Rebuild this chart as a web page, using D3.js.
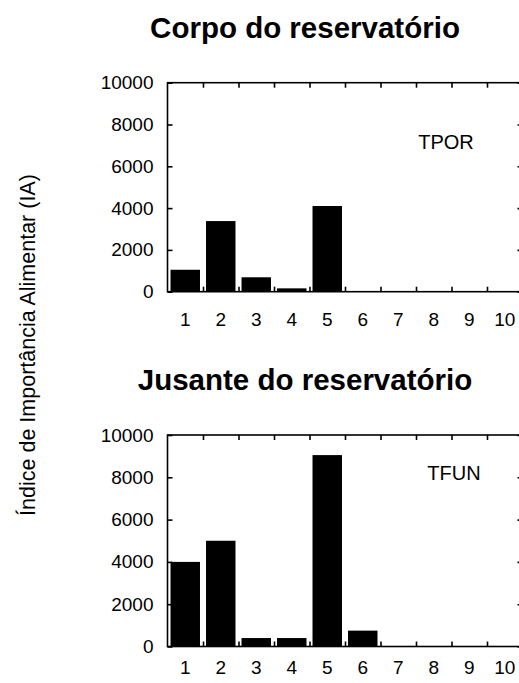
<!DOCTYPE html>
<html>
<head>
<meta charset="utf-8">
<script src="https://cdn.jsdelivr.net/npm/d3@7"></script>
<style>
  body { margin: 0; background: #fff; }
  svg { display: block; font-family: "Liberation Sans", Arial, sans-serif; }
  .axis path, .axis line { stroke: #000; stroke-width: 1.6; }
</style>
</head>
<body>
<svg id="chart" width="519" height="683"></svg>
<script>
// categories and values
const categories = [1, 2, 3, 4, 5, 6, 7, 8, 9, 10];
const yTicks = [0, 2000, 4000, 6000, 8000, 10000];
const tporValues = [1050, 3380, 690, 160, 4100, 0, 0, 0, 0, 0];
const tfunValues = [4000, 5000, 400, 400, 9050, 750, 0, 0, 0, 0];
const panelTitles = ['Corpo do reservatório', 'Jusante do reservatório'];
const panelLabels = ['TPOR', 'TFUN'];
const yLabel = 'Índice de Importância Alimentar (IA)';

const svg = d3.select('#chart');

const left = 167.5, right = 522.5;

const panels = [
  { title: panelTitles[0], label: panelLabels[0], values: tporValues,
    top: 82.7, bottom: 291.7, titleY: 37.5, labelX: 446, labelY: 149, xPad: 21 },
  { title: panelTitles[1], label: panelLabels[1], values: tfunValues,
    top: 435, bottom: 646.5, titleY: 389.5, labelX: 454, labelY: 479.5, xPad: 14 }
];

// shared y-axis title
svg.append('text')
  .attr('transform', 'translate(35,345) rotate(-90)')
  .attr('text-anchor', 'middle')
  .attr('font-size', '21.5px')
  .attr('fill', '#000')
  .text(yLabel);

panels.forEach(p => {
  const g = svg.append('g');

  const x = d3.scaleBand()
    .domain(categories)
    .range([left, right])
    .paddingInner(0.17)
    .paddingOuter(0.085);

  // linear version of x for tick marks between categories
  const xEdge = d3.scaleLinear()
    .domain([0.5, categories.length + 0.5])
    .range([left, right]);
  const edges = categories.slice(0, -1).map(c => c + 0.5);

  const y = d3.scaleLinear()
    .domain([0, 10000])
    .range([p.bottom, p.top]);

  // title
  g.append('text')
    .attr('x', 305)
    .attr('y', p.titleY)
    .attr('text-anchor', 'middle')
    .attr('font-size', '29.5px')
    .attr('font-weight', 'bold')
    .text(p.title);

  // bars
  g.selectAll('rect.bar')
    .data(p.values)
    .enter()
    .append('rect')
    .attr('class', 'bar')
    .attr('x', (d, i) => x(categories[i]))
    .attr('width', x.bandwidth())
    .attr('y', d => y(d))
    .attr('height', d => y(0) - y(d))
    .attr('fill', '#000');

  // frame
  g.append('rect')
    .attr('x', left)
    .attr('y', p.top)
    .attr('width', right - left)
    .attr('height', p.bottom - p.top)
    .attr('fill', 'none')
    .attr('stroke', '#000')
    .attr('stroke-width', 1.6);

  // y axis (left, inward ticks)
  const yAxis = g.append('g')
    .attr('class', 'axis')
    .attr('transform', `translate(${left},0)`)
    .call(d3.axisLeft(y).tickValues(yTicks).tickSize(-5).tickPadding(14).tickFormat(d3.format('d')));
  yAxis.select('.domain').remove();
  yAxis.selectAll('text').attr('font-size', '19px').attr('fill', '#000').style('font-family', 'Liberation Sans, Arial, sans-serif');

  // right ticks
  const yRight = g.append('g')
    .attr('class', 'axis')
    .attr('transform', `translate(${right},0)`)
    .call(d3.axisRight(y).tickValues(yTicks).tickSize(-5).tickFormat(''));
  yRight.select('.domain').remove();

  // bottom ticks between bars
  const xTicks = g.append('g')
    .attr('class', 'axis')
    .attr('transform', `translate(0,${p.bottom})`)
    .call(d3.axisBottom(xEdge).tickValues(edges).tickSize(-5).tickFormat(''));
  xTicks.select('.domain').remove();

  // top ticks
  const xTop = g.append('g')
    .attr('class', 'axis')
    .attr('transform', `translate(0,${p.top})`)
    .call(d3.axisTop(xEdge).tickValues(edges).tickSize(-5).tickFormat(''));
  xTop.select('.domain').remove();

  // category labels
  const xLabels = g.append('g')
    .attr('transform', `translate(0,${p.bottom})`)
    .call(d3.axisBottom(x).tickSize(0).tickPadding(p.xPad));
  xLabels.select('.domain').remove();
  xLabels.selectAll('text').attr('font-size', '19px').attr('fill', '#000').style('font-family', 'Liberation Sans, Arial, sans-serif');

  // series label inside the panel
  g.append('text')
    .attr('x', p.labelX)
    .attr('y', p.labelY)
    .attr('text-anchor', 'middle')
    .attr('font-size', '20px')
    .text(p.label);
});
</script>
</body>
</html>
